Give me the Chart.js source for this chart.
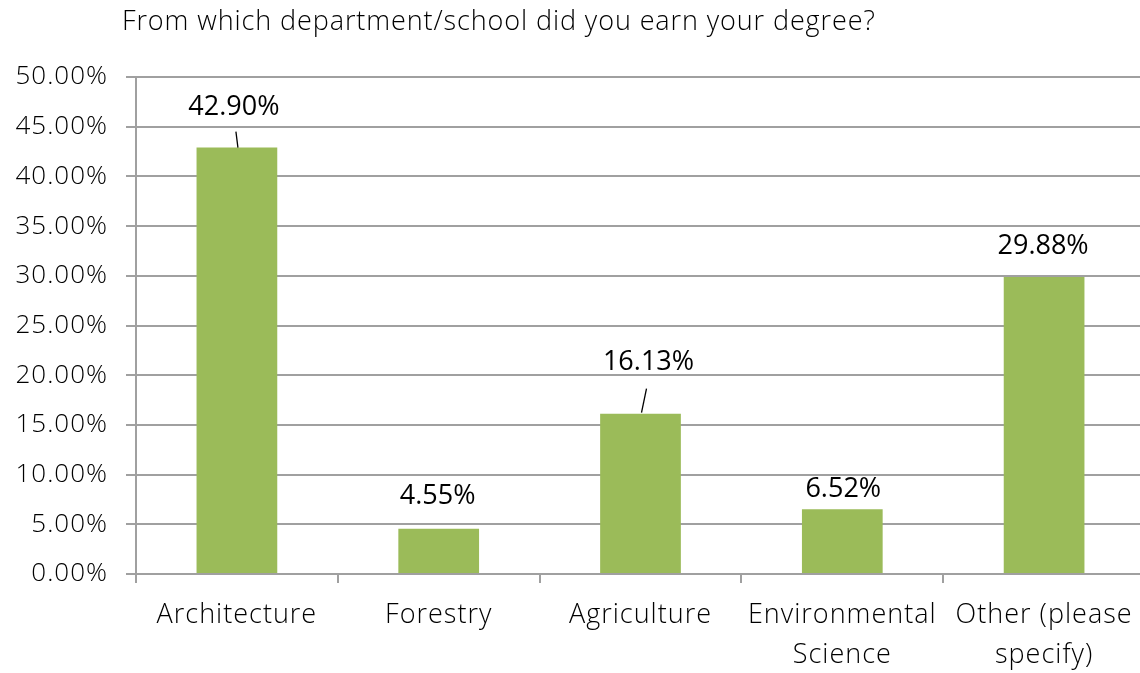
<!DOCTYPE html>
<html>
<head>
<meta charset="utf-8">
<script src="https://cdn.jsdelivr.net/npm/chart.js@4.4.1/dist/chart.umd.min.js"></script>
<style>
  html, body { margin: 0; padding: 0; background: #fff; overflow: hidden; }
  #wrap { width: 1150px; height: 673px; }
</style>
</head>
<body>
<div id="wrap"><canvas id="c" width="1150" height="673"></canvas></div>
<script>
const titleText = 'From which department/school did you earn your degree?';
const categories = ['Architecture', 'Forestry', 'Agriculture', ['Environmental', 'Science'], ['Other (please', 'specify)']];
const values = [42.90, 4.55, 16.13, 6.52, 29.88];
const valueLabels = ['42.90%', '4.55%', '16.13%', '6.52%', '29.88%'];
const yMin = 0, yMax = 50, yStep = 5;

const spacingPlugin = {
  id: 'textSpacing',
  beforeDraw(chart, args, opts) {
    if ('letterSpacing' in chart.ctx) chart.ctx.letterSpacing = opts.spacing;
  }
};

const titlePlugin = {
  id: 'leftTitle',
  afterDraw(chart, args, opts) {
    const ctx = chart.ctx;
    ctx.save();
    if ('letterSpacing' in ctx) ctx.letterSpacing = opts.spacing;
    ctx.font = opts.font;
    ctx.fillStyle = opts.color;
    ctx.textAlign = 'left';
    ctx.textBaseline = 'middle';
    ctx.fillText(titleText, opts.x, opts.y);
    ctx.restore();
  }
};

const labelPlugin = {
  id: 'barLabels',
  afterDatasetsDraw(chart, args, opts) {
    const ctx = chart.ctx;
    const meta = chart.getDatasetMeta(0);
    ctx.save();
    if ('letterSpacing' in ctx) ctx.letterSpacing = '0px';
    ctx.font = opts.font;
    ctx.fillStyle = opts.color;
    ctx.textAlign = 'center';
    ctx.textBaseline = 'middle';
    meta.data.forEach((bar, i) => {
      const p = opts.place[i];
      ctx.fillText(valueLabels[i], bar.x + p.dx, bar.y + p.dy);
      if (p.leader) {
        ctx.beginPath();
        ctx.strokeStyle = opts.color;
        ctx.lineWidth = 1.3;
        ctx.moveTo(bar.x + p.leader[0], bar.y + p.leader[1]);
        ctx.lineTo(bar.x + p.leader[2], bar.y + p.leader[3]);
        ctx.stroke();
      }
    });
    ctx.restore();
  }
};

const gridColor = '#a0a0a0';

new Chart(document.getElementById('c'), {
  type: 'bar',
  data: {
    labels: categories,
    datasets: [{
      data: values,
      backgroundColor: '#9bbb59',
      borderWidth: 0,
      barPercentage: 0.4,
      categoryPercentage: 1.0
    }]
  },
  plugins: [spacingPlugin, labelPlugin, titlePlugin],
  options: {
    responsive: false,
    animation: false,
    layout: { padding: { left: 0, right: 5, top: 77, bottom: 0 } },
    plugins: {
      legend: { display: false },
      tooltip: { enabled: false },
      title: { display: false },
      textSpacing: { spacing: '1px' },
      leftTitle: { font: '300 27px "Open Sans"', color: '#000', x: 122, y: 22, spacing: '0.9px' },
      barLabels: {
        font: '27px "Open Sans"',
        color: '#000',
        place: [
          { dx: -3, dy: -40, leader: [-1, -16, 1, 0] },
          { dx: -1, dy: -32 },
          { dx: 8, dy: -51, leader: [6, -25, 1, -1] },
          { dx: 1, dy: -20 },
          { dx: -1, dy: -31 }
        ]
      }
    },
    scales: {
      x: {
        grid: { display: true, drawOnChartArea: false, drawTicks: true, tickLength: 9, color: gridColor, lineWidth: 2, offset: true },
        border: { display: true, color: gridColor, width: 2 },
        ticks: { color: '#000', font: { family: 'Open Sans', size: 27, weight: '300', lineHeight: 1.48 }, padding: 12, maxRotation: 0, autoSkip: false },
        afterFit(scale) { scale.height = 99; }
      },
      y: {
        min: yMin, max: yMax,
        grid: { color: gridColor, lineWidth: 2, tickLength: 10 },
        border: { display: true, color: gridColor, width: 2 },
        ticks: {
          stepSize: yStep,
          color: '#000',
          font: { family: 'Open Sans', size: 26, weight: '300' },
          padding: 18,
          callback: v => v.toFixed(2) + '%'
        },
        afterFit(scale) { scale.width = 136; }
      }
    }
  }
});
</script>
</body>
</html>
